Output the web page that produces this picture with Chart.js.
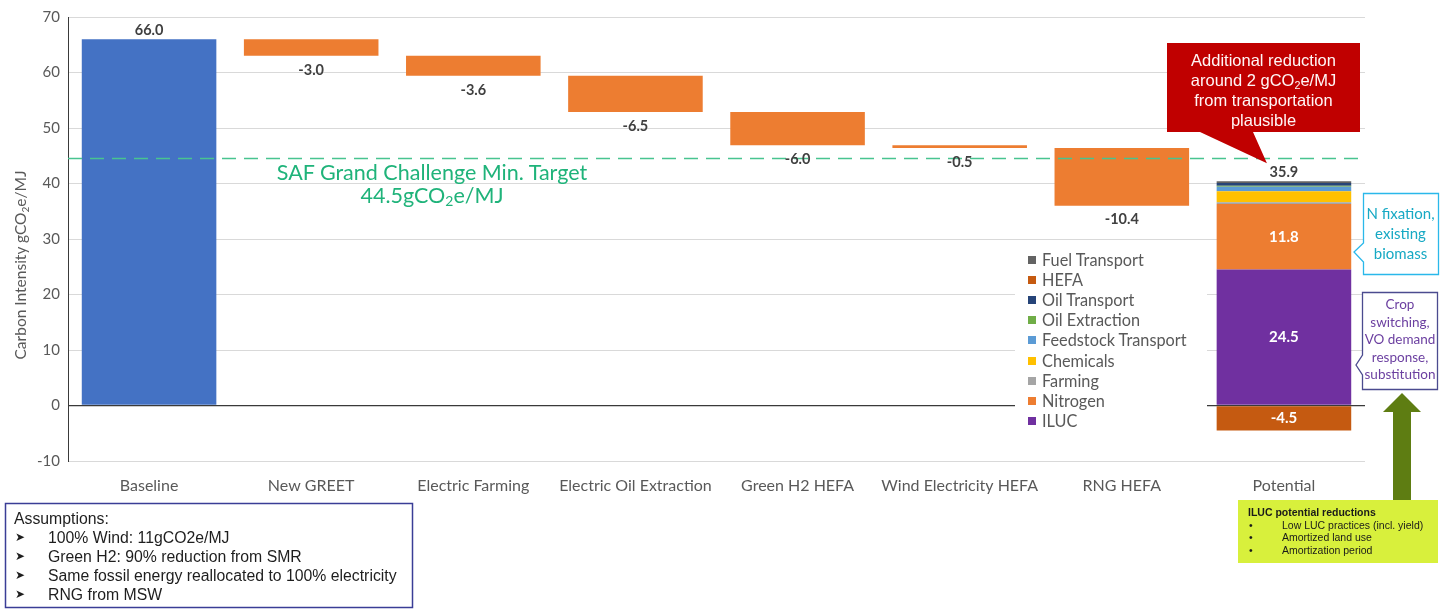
<!DOCTYPE html>
<html>
<head>
<meta charset="utf-8">
<title>Carbon intensity waterfall</title>
<script src="https://cdn.jsdelivr.net/npm/chart.js@4.4.1/dist/chart.umd.min.js"></script>
<style>
  html, body { margin: 0; padding: 0; background: #fff; }
  #wrap { position: relative; width: 1442px; height: 610px; overflow: hidden; font-family: Lato, "Open Sans", sans-serif; }
  #wrap canvas { position: absolute; left: 0; top: 0; }
  .ov { position: absolute; }
  #shapes { left: 0; top: 0; pointer-events: none; }
  #ytitle { left: -110px; top: 255px; width: 260px; height: 20px; line-height: 20px; text-align: center;
            transform: rotate(-90deg); font-size: 15.5px; color: #595959; white-space: nowrap; }
  #saf { left: 182px; top: 161px; width: 500px; text-align: center; font-size: 21.5px; line-height: 23px; color: #1fb37a; white-space: nowrap; }
  #legend { left: 1015px; top: 249px; width: 192px; height: 183px; background: #fff; }
  .lg { position: absolute; left: 0; height: 20px; line-height: 20px; font-size: 16.3px; color: #595959; white-space: nowrap; }
  .lg i { position: absolute; left: 13px; top: 6px; width: 8px; height: 8px; }
  .lg span { position: absolute; left: 27px; top: 0; }
  #callout { left: 1167px; top: 50px; width: 193px; text-align: center; font-family: "Liberation Sans", Arial, sans-serif;
             font-size: 16.5px; line-height: 20px; color: #fff6f6; white-space: nowrap; }
  #nfix { left: 1363px; top: 203px; width: 75px; text-align: center; font-size: 15px; line-height: 20px; color: #17a9c4; }
  #crop { left: 1362px; top: 296px; width: 76px; text-align: center; font-size: 13.5px; line-height: 17.5px; color: #6b3fa0; white-space: nowrap; }
  #assume { left: 14px; top: 509px; font-family: "Liberation Sans", Arial, sans-serif; font-size: 15.8px; line-height: 19px; color: #1e1e1e; }
  #assume div { position: relative; white-space: nowrap; }
  #assume .b { position: absolute; left: 1px; font-family: "DejaVu Sans", sans-serif; font-size: 12px; }
  #assume .t { padding-left: 34px; }
  #iluc { left: 1248px; top: 506px; font-family: "Liberation Sans", Arial, sans-serif; font-size: 10.5px; line-height: 12.7px; color: #1a1a1a; }
  #iluc div { position: relative; white-space: nowrap; }
  #iluc .b { position: absolute; left: 1px; }
  #iluc .t { padding-left: 34px; }
  sub { font-size: 0.65em; line-height: 0; vertical-align: -0.25em; }
</style>
</head>
<body>
<div id="wrap">
  <canvas id="c" width="1442" height="610"></canvas>

  <svg id="shapes" class="ov" width="1442" height="610">
    <!-- side notes on the Potential column -->
    <path d="M1363.5,193.5 H1438.5 V274.5 H1363.5 V262 L1354,252 L1363.5,243 Z" fill="#fff" stroke="#2ab8ea" stroke-width="1.3"/>
    <path d="M1362.5,292.5 H1437.5 V389.5 H1362.5 V375 L1356,365 L1362.5,355 Z" fill="#fff" stroke="#4b4b8f" stroke-width="1.3"/>
    <!-- upward arrow from the ILUC note -->
    <path d="M1393,502 V412 H1383 L1402,393 L1421,412 H1411 V502 Z" fill="#5e7d12"/>
    <rect x="1238" y="500" width="200" height="63" fill="#d8f03c"/>
    <rect x="5.5" y="503.5" width="407" height="104" fill="#fff" stroke="#3a3d96" stroke-width="1.5"/>
  </svg>

  <div id="ytitle" class="ov">Carbon Intensity gCO<sub>2</sub>e/MJ</div>
  <div id="saf" class="ov">SAF Grand Challenge Min. Target<br>44.5gCO<sub>2</sub>e/MJ</div>
  <div id="legend" class="ov"></div>
  <div id="callout" class="ov">Additional reduction<br>around 2 gCO<sub>2</sub>e/MJ<br>from transportation<br>plausible</div>
  <div id="nfix" class="ov">N fixation,<br>existing<br>biomass</div>
  <div id="crop" class="ov">Crop<br>switching,<br>VO demand<br>response,<br>substitution</div>
  <div id="assume" class="ov">
    <div>Assumptions:</div>
    <div><span class="b">&#x27A4;</span><span class="t">100% Wind: 11gCO2e/MJ</span></div>
    <div><span class="b">&#x27A4;</span><span class="t">Green H2: 90% reduction from SMR</span></div>
    <div><span class="b">&#x27A4;</span><span class="t">Same fossil energy reallocated to 100% electricity</span></div>
    <div><span class="b">&#x27A4;</span><span class="t">RNG from MSW</span></div>
  </div>
  <div id="iluc" class="ov">
    <div><b>ILUC potential reductions</b></div>
    <div><span class="b">&bull;</span><span class="t">Low LUC practices (incl. yield)</span></div>
    <div><span class="b">&bull;</span><span class="t">Amortized land use</span></div>
    <div><span class="b">&bull;</span><span class="t">Amortization period</span></div>
  </div>
</div>

<script>
// ---- data ----
const categories = ['Baseline', 'New GREET', 'Electric Farming', 'Electric Oil Extraction',
                    'Green H2 HEFA', 'Wind Electricity HEFA', 'RNG HEFA', 'Potential'];
const baselineValue = 66.0;
const stepChanges = [-3.0, -3.6, -6.5, -6.0, -0.5, -10.4];

// Potential column, stacked bottom to top
const potentialComponents = ['ILUC', 'Nitrogen', 'Farming', 'Chemicals', 'Feedstock Transport',
                             'Oil Extraction', 'Oil Transport', 'HEFA', 'Fuel Transport'];
const potentialValues = [24.5, 11.8, 0.3, 2.0, 0.8, 0.2, 0.5, -4.5, 0.3];
const componentColors = ['#7030a0', '#ed7d31', '#a5a5a5', '#ffc000', '#5b9bd5',
                         '#70ad47', '#264478', '#c55a11', '#636363'];

const targetValue = 44.5;
const yTickValues = [-10, 0, 10, 20, 30, 40, 50, 60, 70];

// ---- styling ----
const baselineColor = '#4472c4';
const stepColor = '#ed7d31';
const textGray = '#595959';
const labelGray = '#404040';

// ---- build datasets ----
const n = categories.length;
const blank = () => new Array(n).fill(null);

const baseData = blank();
baseData[0] = baselineValue;

const stepData = blank();
let level = baselineValue;
stepChanges.forEach((d, i) => {
  stepData[i + 1] = [level, level + d];
  level += d;
});

const potIdx = n - 1;
let posTop = 0, negTop = 0;
const compSets = potentialComponents.map((name, k) => {
  const v = potentialValues[k];
  const d = blank();
  if (v >= 0) { d[potIdx] = [posTop, posTop + v]; posTop += v; }
  else { d[potIdx] = [negTop, negTop + v]; negTop += v; }
  return { label: name, data: d, backgroundColor: componentColors[k] };
});
const potentialTotal = potentialValues.reduce((a, b) => a + b, 0);

const datasets = [
  { label: 'Baseline', data: baseData, backgroundColor: baselineColor },
  { label: 'Change', data: stepData, backgroundColor: stepColor },
  ...compSets
].map(ds => Object.assign(ds, {
  grouped: false, barPercentage: 0.83, categoryPercentage: 1.0, borderWidth: 0
}));

// ---- legend (top entry = top of stack) ----
const legendEl = document.getElementById('legend');
potentialComponents.slice().reverse().forEach((name, i) => {
  const k = potentialComponents.indexOf(name);
  const row = document.createElement('div');
  row.className = 'lg';
  row.style.top = (1 + i * 20.1) + 'px';
  row.style.width = '190px';
  row.innerHTML = '<i style="background:' + componentColors[k] + '"></i><span>' + name + '</span>';
  legendEl.appendChild(row);
});

// ---- plugins ----
const annotate = {
  id: 'annotate',
  afterDatasetsDraw(chart) {
    const { ctx, chartArea, scales: { x, y } } = chart;
    ctx.save();

    // target line
    const ty = y.getPixelForValue(targetValue);
    ctx.setLineDash([14, 8]);
    ctx.strokeStyle = '#48c490';
    ctx.lineWidth = 1.5;
    ctx.beginPath();
    ctx.moveTo(chartArea.left, ty);
    ctx.lineTo(chartArea.right, ty);
    ctx.stroke();
    ctx.setLineDash([]);

    ctx.textAlign = 'center';
    ctx.textBaseline = 'middle';
    ctx.font = 'bold 14.5px Lato, sans-serif';
    ctx.fillStyle = labelGray;

    // baseline value
    ctx.fillText(baselineValue.toFixed(1), x.getPixelForValue(0), y.getPixelForValue(baselineValue) - 9);

    // step changes, under each bar
    stepChanges.forEach((d, i) => {
      const end = stepData[i + 1][1];
      ctx.fillText(d.toFixed(1), x.getPixelForValue(i + 1), y.getPixelForValue(end) + 14);
    });

    // total above the Potential stack
    const px = x.getPixelForValue(potIdx);
    const totalY = y.getPixelForValue(posTop) - 9;
    ctx.fillText(potentialTotal.toFixed(1), px, totalY);

    // segment values inside the larger segments
    ctx.font = 'bold 15px Lato, sans-serif';
    ctx.fillStyle = '#ffffff';
    potentialValues.forEach((v, k) => {
      if (Math.abs(v) < 4) return;
      const seg = compSets[k].data[potIdx];
      const cy = (y.getPixelForValue(seg[0]) + y.getPixelForValue(seg[1])) / 2;
      ctx.fillText(v.toFixed(1), px, cy);
    });
    ctx.restore();
    chart.$totalLabelY = totalY;
  },
  afterDraw(chart) {
    // red callout box with its tail pointing at the total
    const { ctx, scales: { x } } = chart;
    const px = x.getPixelForValue(potIdx);
    const tipY = chart.$totalLabelY - 9;
    ctx.save();
    ctx.fillStyle = '#c00000';
    ctx.beginPath();
    ctx.moveTo(1167, 43);
    ctx.lineTo(1360, 43);
    ctx.lineTo(1360, 132);
    ctx.lineTo(1253, 132);
    ctx.lineTo(px - 17, tipY);
    ctx.lineTo(1200, 132);
    ctx.lineTo(1167, 132);
    ctx.closePath();
    ctx.fill();
    ctx.restore();
  }
};

function draw() {
  Chart.defaults.font.family = 'Lato, sans-serif';
  new Chart(document.getElementById('c'), {
    type: 'bar',
    data: { labels: categories, datasets },
    options: {
      responsive: false,
      animation: false,
      events: [],
      layout: { padding: { top: 15, right: 77, left: 0, bottom: 0 } },
      plugins: { legend: { display: false }, tooltip: { enabled: false } },
      scales: {
        x: {
          grid: { display: false, drawTicks: false },
          border: { display: false },
          ticks: { color: textGray, font: { size: 16 }, padding: 15, maxRotation: 0, autoSkip: false },
          afterFit(s) { s.height = 149; }
        },
        y: {
          min: -10, max: 70,
          afterBuildTicks(s) { s.ticks = yTickValues.map(v => ({ value: v })); },
          grid: {
            drawTicks: false,
            color: c => (c.tick && c.tick.value === 0) ? '#3a3a3a' : '#d9d9d9',
            lineWidth: c => (c.tick && c.tick.value === 0) ? 1.3 : 1
          },
          border: { display: true, color: '#3a3a3a', width: 1 },
          ticks: { color: textGray, font: { size: 15 }, padding: 8 },
          afterFit(s) { s.width = 68; }
        }
      }
    },
    plugins: [annotate]
  });
}

const fontsReady = document.fonts
  ? Promise.all([document.fonts.load('14px Lato'), document.fonts.load('bold 13px Lato')]).catch(() => {})
  : Promise.resolve();
fontsReady.then(draw);
</script>
</body>
</html>
